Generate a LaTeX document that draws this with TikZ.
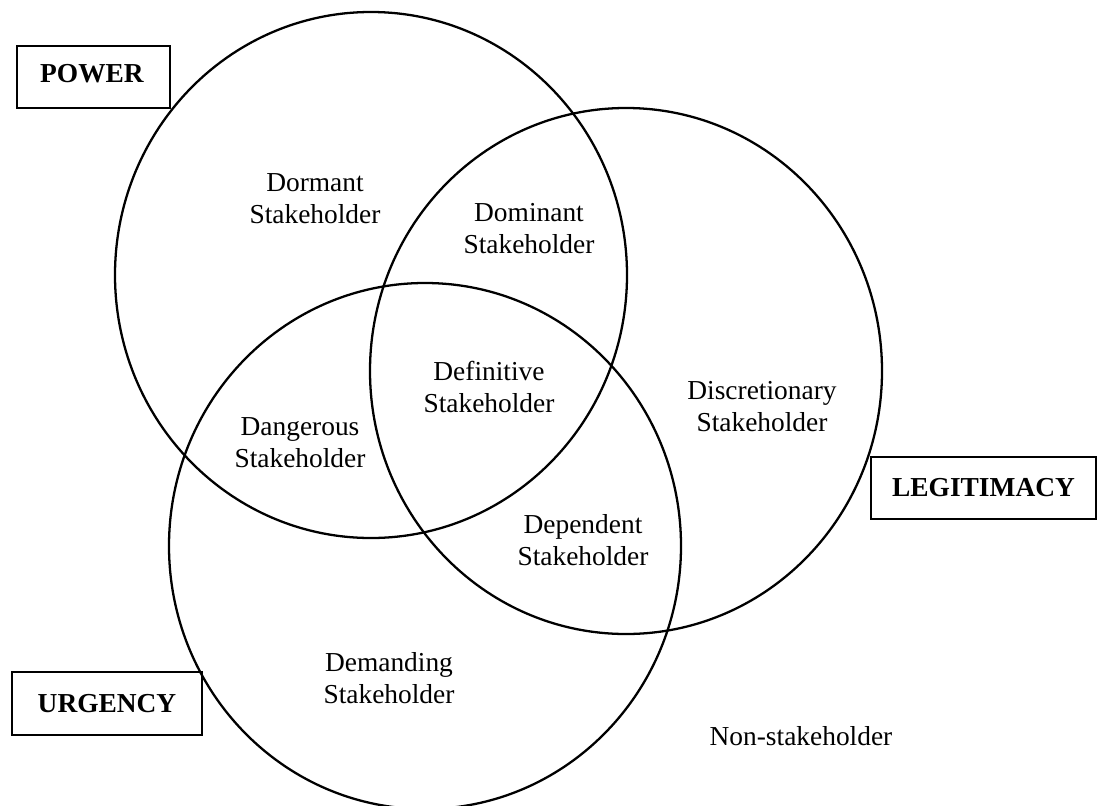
\documentclass[tikz,border=0pt]{standalone}
\usepackage{fontspec}
\setmainfont{Liberation Serif}
\usetikzlibrary{positioning}

\tikzset{
  venn/.style={draw=black,line width=1.3pt},
  stakeholder/.style={align=center,inner sep=0pt,font=\fontsize{15.6pt}{18.2pt}\selectfont},
  attrbox/.style={draw=black,line width=1pt,inner sep=0pt,font=\fontsize{15.6pt}{18pt}\selectfont\bfseries}
}

\begin{document}
\begin{tikzpicture}[x=0.02cm,y=-0.02cm]
  \useasboundingbox (0,0) rectangle (1099,805);
  % the three attribute circles
  \draw[venn] (371,275) ellipse [x radius=256,y radius=263];
  \draw[venn] (626,371) ellipse [x radius=256,y radius=263];
  \draw[venn] (425,546) ellipse [x radius=256,y radius=263];

  % attribute labels
  \node[attrbox,minimum width=3.06cm,minimum height=1.24cm] (power) at (93.5,77) {};
  \node[font=\fontsize{15.6pt}{18pt}\selectfont\bfseries,inner sep=0pt] (powertxt) at (92,74) {POWER};
  \node[attrbox,minimum width=4.5cm,minimum height=1.24cm] (legitimacy) at (983.5,488) {LEGITIMACY};
  \node[attrbox,minimum width=3.8cm,minimum height=1.26cm] (urgency) at (107,703.5) {URGENCY};

  % stakeholder classes
  \node[stakeholder] (dormant) at (315,199) {Dormant\\Stakeholder};
  \node[stakeholder] (dominant) at (529,229) {Dominant\\Stakeholder};
  \node[stakeholder] (discretionary) at (762,407) {Discretionary\\Stakeholder};
  \node[stakeholder] (definitive) at (489,387) {Definitive\\Stakeholder};
  \node[stakeholder] (dangerous) at (300,443) {Dangerous\\Stakeholder};
  \node[stakeholder] (dependent) at (583,540) {Dependent\\Stakeholder};
  \node[stakeholder] (demanding) at (389,678) {Demanding\\Stakeholder};
  \node[stakeholder] (nonstake) at (801,736) {Non-stakeholder};
\end{tikzpicture}
\end{document}
